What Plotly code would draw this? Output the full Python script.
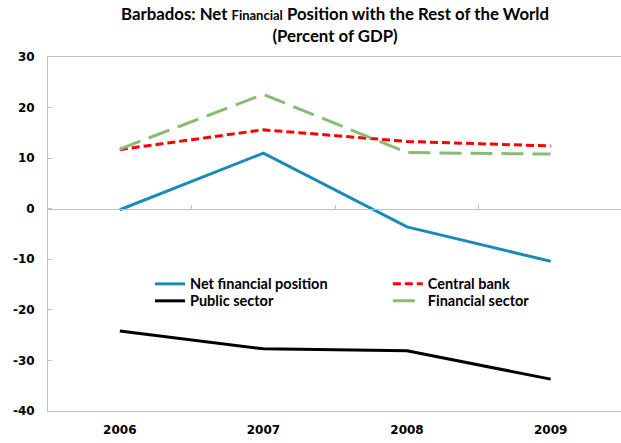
import plotly.graph_objects as go

# Barbados: net financial position with the rest of the world, percent of GDP
years = ["2006", "2007", "2008", "2009"]
net_financial_position = [-0.2, 11.0, -3.6, -10.4]
central_bank = [11.7, 15.6, 13.3, 12.4]
public_sector = [-24.2, -27.7, -28.1, -33.7]
financial_sector = [11.8, 22.6, 11.1, 10.8]
y_ticks = [30, 20, 10, 0, -10, -20, -30, -40]
y_tick_text = [str(v) for v in y_ticks]  # plain hyphen for negatives

FONT = "Lato, 'Open Sans', sans-serif"
TICK_FONT = "'DejaVu Sans', sans-serif"
GRID_GREY = "#c0c0c0"

fig = go.Figure()

series = [
    ("Net financial position", net_financial_position,
     dict(color="#1a8bb9", width=3), "legend"),
    ("Public sector", public_sector,
     dict(color="#000000", width=3), "legend2"),
    ("Central bank", central_bank,
     dict(color="#ff0000", width=3, dash="8px,4px"), "legend3"),
    ("Financial sector", financial_sector,
     dict(color="#86bc75", width=3, dash="22px,9px"), "legend4"),
]
for name, values, line, legend in series:
    fig.add_trace(go.Scatter(x=years, y=values, name=name, mode="lines",
                             line=line, legend=legend))

# horizontal axis line through zero with boundary ticks between categories
fig.add_trace(go.Scatter(x=[0], y=[None], xaxis="x2", showlegend=False,
                         hoverinfo="skip"))

legend_style = dict(
    font=dict(family=FONT, size=14.5, color="#000000", weight="bold"),
    bgcolor="rgba(0,0,0,0)", itemwidth=30,
    yanchor="middle", xanchor="left", orientation="v",
)
col1_x, col2_x = 0.178, 0.593
row1_y, row2_y = 0.359, 0.311

fig.update_layout(
    width=621, height=443,
    margin=dict(l=48, r=0, t=57, b=32),
    paper_bgcolor="white", plot_bgcolor="white",
    font=dict(family=FONT, color="#000000"),
    showlegend=True,
    legend=dict(x=col1_x, y=row1_y, **legend_style),
    legend2=dict(x=col1_x, y=row2_y, **legend_style),
    legend3=dict(x=col2_x, y=row1_y, **legend_style),
    legend4=dict(x=col2_x, y=row2_y, **legend_style),
    xaxis=dict(
        type="category", range=[-0.5, 3.49],
        showline=True, linecolor=GRID_GREY, linewidth=1, mirror=True,
        ticks="", showgrid=False, zeroline=False,
        tickfont=dict(family=TICK_FONT, size=12, color="#000000", weight="bold"),
        ticklabelstandoff=8,
    ),
    xaxis2=dict(
        overlaying="x", anchor="free", position=4 / 7,
        range=[-0.5, 3.49], type="linear",
        showline=True, linecolor=GRID_GREY, linewidth=1,
        ticks="inside", ticklen=4, tickcolor=GRID_GREY,
        tickvals=[0.5, 1.5, 2.5], showticklabels=False, showgrid=False,
        zeroline=False,
    ),
    yaxis=dict(
        range=[-40, 30], tickvals=y_ticks, ticktext=y_tick_text,
        showline=True, linecolor=GRID_GREY, linewidth=1,
        ticks="inside", ticklen=4, tickcolor=GRID_GREY,
        showgrid=False, zeroline=False,
        tickfont=dict(family=TICK_FONT, size=12, color="#000000", weight="bold"),
        ticklabelstandoff=10,
    ),
)

# chart title, two centred lines above the plot area
fig.add_annotation(
    text="Barbados: Net <span style='font-size:13px'>Financial</span> Position with the Rest of the World<br>(Percent of GDP)",
    xref="paper", yref="paper", x=0.5, y=1,
    xanchor="center", yanchor="bottom", yshift=9, showarrow=False,
    font=dict(family=FONT, size=16.8, color="#000000", weight="bold"),
)

fig.write_html("out.html")
